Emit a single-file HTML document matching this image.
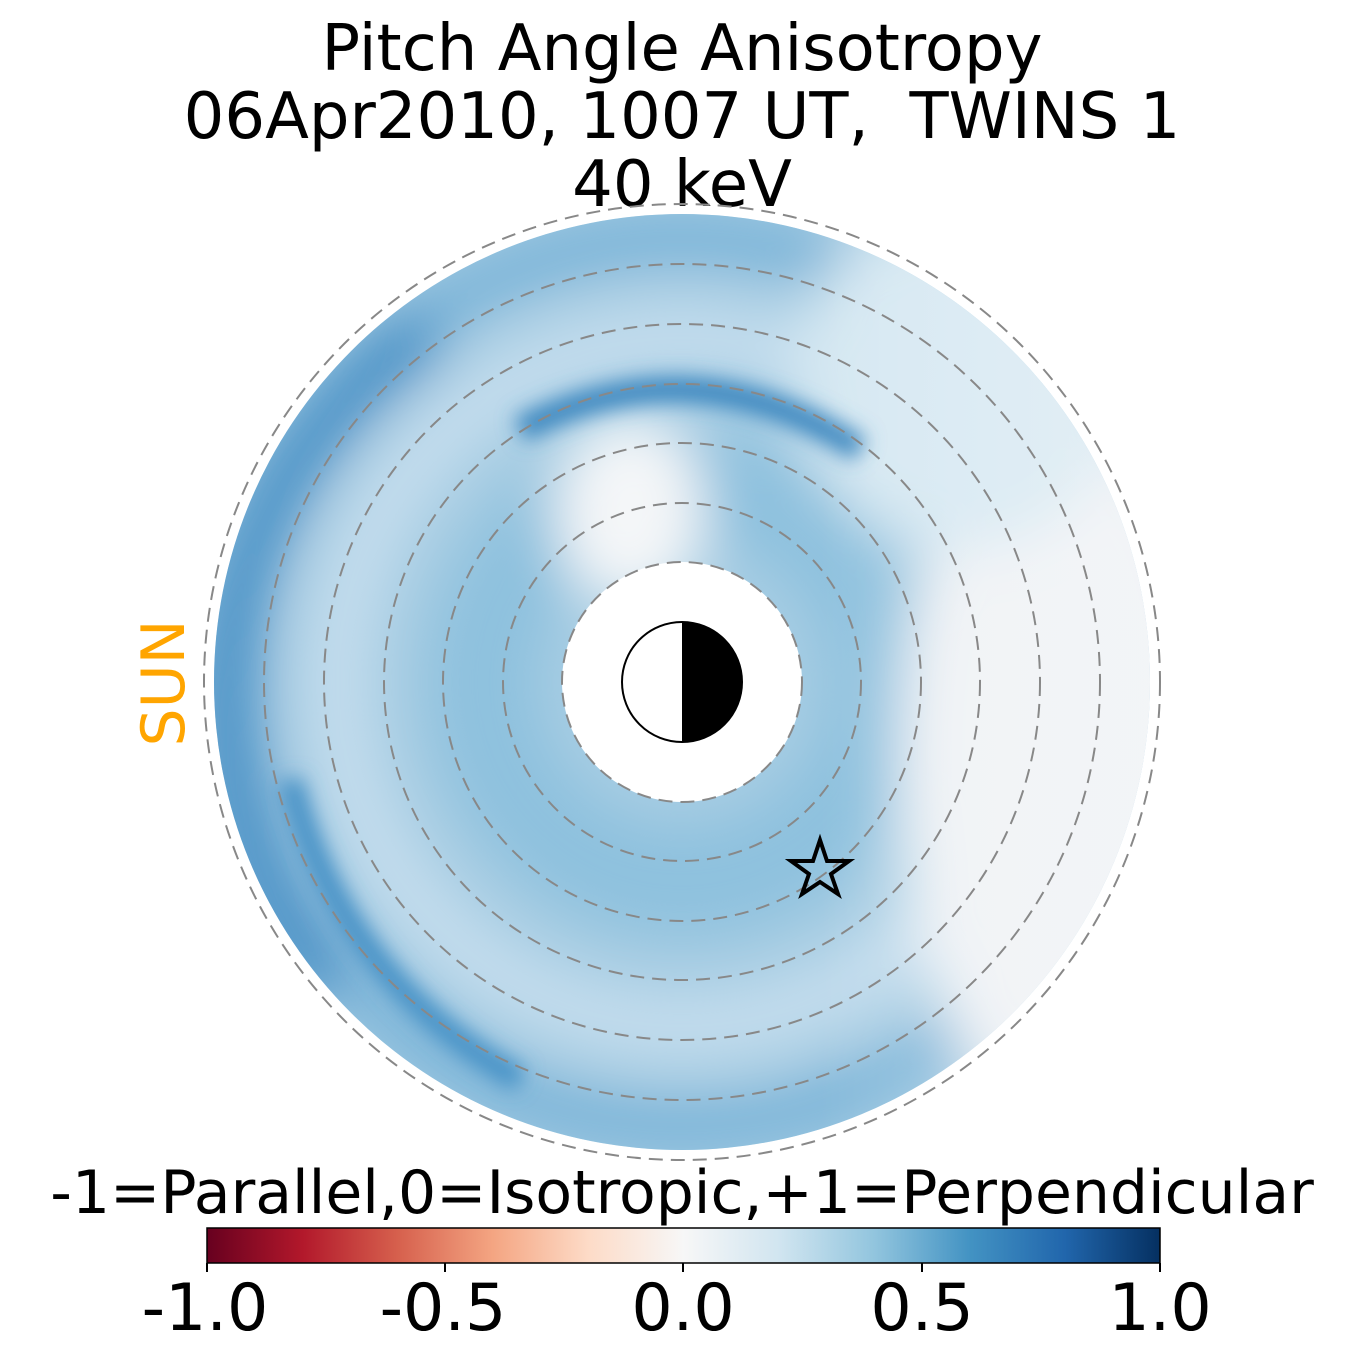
<!DOCTYPE html>
<html><head><meta charset="utf-8"><style>
html,body{margin:0;padding:0;background:#fff;}
body{width:1365px;height:1365px;overflow:hidden;font-family:"DejaVu Sans","Liberation Sans",sans-serif;}
</style></head><body>
<svg width="1365" height="1365" viewBox="0 0 1365 1365" xmlns="http://www.w3.org/2000/svg" font-family="DejaVu Sans, Liberation Sans, sans-serif">
<defs>
<filter id="b1" filterUnits="userSpaceOnUse" x="0" y="0" width="1365" height="1365"><feGaussianBlur stdDeviation="28"/></filter>
<filter id="b2" filterUnits="userSpaceOnUse" x="0" y="0" width="1365" height="1365"><feGaussianBlur stdDeviation="10"/></filter>
<clipPath id="disc"><circle cx="682" cy="682" r="468"/></clipPath>
<linearGradient id="cb" x1="0" x2="1" y1="0" y2="0">
<stop offset="0" stop-color="#67001f"/>
<stop offset="0.1" stop-color="#b2182b"/>
<stop offset="0.2" stop-color="#d6604d"/>
<stop offset="0.3" stop-color="#f4a582"/>
<stop offset="0.4" stop-color="#fddbc7"/>
<stop offset="0.5" stop-color="#f7f7f7"/>
<stop offset="0.6" stop-color="#d1e5f0"/>
<stop offset="0.7" stop-color="#92c5de"/>
<stop offset="0.8" stop-color="#4393c3"/>
<stop offset="0.9" stop-color="#2166ac"/>
<stop offset="1" stop-color="#053061"/>
</linearGradient>
<linearGradient id="lr" x1="0" x2="1" y1="0" y2="0">
<stop offset="0" stop-color="#fff" stop-opacity="0"/>
<stop offset="0.6" stop-color="#fff" stop-opacity="0"/>
<stop offset="1" stop-color="#f5f6f7" stop-opacity="1"/>
</linearGradient>
</defs>
<text x="682" y="70" font-size="64" text-anchor="middle">Pitch Angle Anisotropy</text>
<text x="682" y="138" font-size="64" text-anchor="middle" xml:space="preserve">06Apr2010, 1007 UT,  TWINS 1</text>
<text x="682" y="206" font-size="64" text-anchor="middle">40 keV</text>

<g clip-path="url(#disc)">
<rect x="0" y="0" width="1365" height="1365" fill="#a7cde3"/>
<g filter="url(#b1)">
<circle cx="682" cy="682" r="445" fill="none" stroke="#72afd6" stroke-width="45"/>
<path d="M 330 990 A 440 440 0 0 1 430 330" fill="none" stroke="#3f8bc3" stroke-width="55"/>
<circle cx="682" cy="682" r="345" fill="none" stroke="#c6deee" stroke-width="60"/>
<circle cx="682" cy="682" r="200" fill="none" stroke="#8ec1de" stroke-width="110"/>
<ellipse cx="630" cy="510" rx="75" ry="95" fill="#f4f6f8"/>
<ellipse cx="1060" cy="760" rx="160" ry="360" fill="#eff2f5"/>
<ellipse cx="960" cy="380" rx="170" ry="170" fill="#d6e8f2"/>
</g>
<g filter="url(#b2)">
<path d="M 520 430 Q 690 340 860 450" fill="none" stroke="#3e88c0" stroke-width="26"/>
<path d="M 290 780 Q 340 980 520 1080" fill="none" stroke="#4591c6" stroke-width="24"/>
</g>
<rect x="0" y="0" width="1365" height="1365" fill="url(#lr)" opacity="0.6"/>
</g>
<circle cx="682" cy="682" r="120" fill="#fff"/>
<g fill="none" stroke="#888" stroke-width="2" stroke-dasharray="14,8">
<circle cx="682" cy="682" r="120"/><circle cx="682" cy="682" r="179"/><circle cx="682" cy="682" r="239"/>
<circle cx="682" cy="682" r="298"/><circle cx="682" cy="682" r="358"/><circle cx="682" cy="682" r="418"/>
<circle cx="682" cy="682" r="478"/>
</g>
<circle cx="682" cy="682" r="60" fill="#fff" stroke="#000" stroke-width="2"/>
<path d="M 682 622 A 60 60 0 0 1 682 742 Z" fill="#000"/>
<polygon points="820,840 827,861 849,861 831,874 838,894 820,882 802,894 809,874 791,861 813,861" fill="none" stroke="#000" stroke-width="4"/>
<text transform="translate(184,683) rotate(-90)" font-size="60" fill="#ffa500" text-anchor="middle">SUN</text>

<text x="682" y="1213" font-size="60" text-anchor="middle">-1=Parallel,0=Isotropic,+1=Perpendicular</text>
<rect x="207" y="1228" width="953" height="35" fill="url(#cb)"/>
<rect x="207" y="1228" width="953" height="35" fill="none" stroke="#000" stroke-width="1.5"/>
<g stroke="#000" stroke-width="2">
<line x1="207" y1="1263" x2="207" y2="1272"/><line x1="445" y1="1263" x2="445" y2="1272"/>
<line x1="683" y1="1263" x2="683" y2="1272"/><line x1="922" y1="1263" x2="922" y2="1272"/>
<line x1="1160" y1="1263" x2="1160" y2="1272"/>
</g>
<g font-size="65" text-anchor="middle">
<text x="205" y="1330">-1.0</text><text x="443" y="1330">-0.5</text><text x="683" y="1330">0.0</text>
<text x="922" y="1330">0.5</text><text x="1160" y="1330">1.0</text>
</g>
</svg>
</body></html>
